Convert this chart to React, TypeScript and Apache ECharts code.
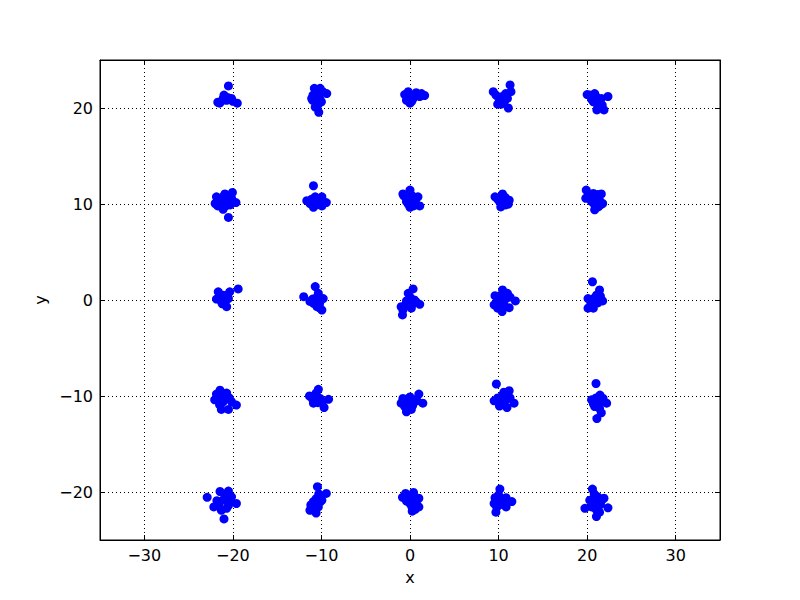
import React, { useEffect, useRef } from "react";
import * as echarts from "echarts";

// Data: [x, y] for each point, grouped by row of clusters
const clusterTop: number[][] = [
  [-20.5, 22.3], [-21.5, 20.5], [-21.0, 21.35], [-20.15, 21.0], [-19.5, 20.5], [-20.7, 20.8], [-21.3, 20.7], [-20.0, 20.7], [-21.1, 21.0], [-20.6, 21.1], [-21.7, 20.6],
  [-10.3, 19.55], [-10.8, 22.05], [-10.15, 22.05], [-9.4, 21.5], [-11.1, 21.0], [-10.5, 20.65], [-10.0, 20.65], [-10.7, 20.1], [-10.95, 21.35], [-10.3, 21.35], [-9.85, 21.7], [-10.6, 21.7], [-10.4, 20.3], [-11.0, 20.8], [-10.2, 21.0],
  [-0.2, 21.7], [-0.6, 21.4], [0.7, 21.6], [1.65, 21.3], [0.0, 20.5], [0.35, 21.0], [1.1, 21.2], [-0.4, 20.8], [0.15, 21.35], [1.3, 21.5], [0.5, 21.3], [-0.1, 21.0], [0.9, 21.4], [0.2, 20.7],
  [11.3, 22.4], [9.4, 21.7], [11.4, 21.7], [10.45, 21.2], [9.9, 20.4], [11.1, 20.0], [10.6, 20.5], [10.1, 20.8], [11.0, 21.0], [9.7, 21.35], [10.8, 21.5], [10.3, 20.4], [10.7, 20.8], [10.0, 21.1],
  [20.3, 21.35], [20.0, 21.4], [20.85, 21.5], [22.35, 21.2], [21.1, 19.8], [21.9, 19.8], [21.4, 20.5], [20.7, 20.65], [21.6, 21.0], [20.5, 20.9], [21.0, 21.2], [21.2, 20.2], [20.9, 20.8], [21.7, 20.3],
];
const clusterUpper: number[][] = [
  [-20.5, 8.6], [-21.85, 10.75], [-20.9, 11.05], [-20.05, 11.2], [-19.65, 10.15], [-22.0, 10.05], [-21.1, 9.45], [-21.45, 10.25], [-20.5, 10.25], [-20.15, 10.6], [-21.2, 10.7], [-20.8, 9.8], [-21.7, 9.8], [-20.3, 9.9],
  [-10.9, 11.9], [-11.65, 10.35], [-10.7, 10.75], [-9.95, 10.75], [-9.45, 10.15], [-10.9, 9.65], [-9.95, 9.8], [-10.35, 10.25], [-11.3, 10.05], [-10.5, 10.5], [-10.6, 9.9], [-11.1, 10.5], [-10.1, 10.4],
  [0.0, 11.45], [-0.8, 11.05], [-0.7, 10.85], [0.9, 10.75], [1.1, 9.8], [0.0, 9.65], [0.35, 10.4], [-0.4, 10.25], [0.2, 10.9], [0.6, 10.2], [-0.2, 10.0], [0.4, 9.8],
  [9.6, 10.75], [10.45, 11.05], [11.2, 10.4], [11.1, 10.0], [10.25, 9.7], [10.1, 10.25], [10.75, 10.7], [10.6, 10.2], [10.3, 10.8], [10.8, 9.9], [9.9, 10.5],
  [19.9, 11.45], [19.85, 10.6], [20.7, 11.1], [21.6, 11.05], [21.75, 10.05], [20.85, 9.4], [21.25, 9.7], [20.5, 10.25], [21.05, 10.6], [21.4, 10.4], [20.8, 10.0], [21.2, 11.0], [20.4, 10.8], [21.5, 9.9],
];
const clusterMiddle: number[][] = [
  [-19.4, 1.15], [-21.65, 0.85], [-21.85, 0.1], [-21.3, -0.15], [-20.7, -0.7], [-20.35, 0.85], [-20.5, 0.15], [-21.1, 0.5], [-20.9, 0.0], [-21.5, 0.4], [-20.6, 0.5], [-21.2, -0.4],
  [-10.7, 1.4], [-12.0, 0.35], [-10.15, -0.85], [-9.95, -1.05], [-9.8, 0.15], [-10.9, -0.35], [-11.3, -0.15], [-10.5, -0.7], [-10.35, 0.7], [-10.6, 0.2], [-10.2, -0.3], [-11.0, 0.1], [-10.4, 0.4],
  [0.35, 1.15], [-0.2, 0.7], [-0.85, -1.55], [-1.0, -0.7], [1.1, -0.45], [0.15, -0.85], [-0.4, -0.1], [0.5, 0.0], [-0.8, -1.05], [0.0, 0.3], [-0.5, -0.5], [0.3, -0.4], [0.7, -0.2], [-0.2, -0.3],
  [10.45, 1.05], [11.0, 0.7], [9.6, 0.45], [9.5, -0.5], [10.4, -1.2], [11.9, -0.1], [11.2, -0.8], [10.25, 0.0], [10.85, 0.15], [9.9, -0.85], [10.5, 0.5], [10.0, 0.2], [10.6, -0.5], [11.3, 0.3], [9.8, -0.2],
  [20.6, 1.9], [21.4, 1.05], [21.75, -0.1], [20.1, 0.15], [20.1, -0.85], [20.7, -0.85], [21.05, 0.5], [20.5, -0.15], [21.2, -0.3], [20.8, 0.2], [21.5, 0.4], [20.4, -0.5],
];
const clusterLower: number[][] = [
  [-21.45, -9.4], [-22.05, -10.4], [-21.3, -11.4], [-20.5, -11.4], [-19.6, -10.95], [-20.7, -9.7], [-21.1, -10.6], [-20.15, -10.6], [-21.85, -9.8], [-21.5, -10.9], [-20.9, -10.1], [-20.4, -10.2], [-21.2, -9.7], [-21.7, -10.4],
  [-10.35, -9.3], [-11.35, -10.0], [-10.9, -10.75], [-9.7, -11.2], [-9.2, -10.35], [-10.15, -10.25], [-10.5, -10.05], [-10.6, -9.7], [-10.4, -10.7], [-9.9, -10.6], [-11.0, -10.3],
  [1.0, -9.8], [1.45, -10.75], [-0.8, -10.25], [-1.0, -10.75], [-0.4, -11.65], [0.15, -11.4], [0.0, -10.6], [0.55, -10.4], [-0.6, -11.1], [-0.3, -10.3], [0.3, -11.0], [-0.7, -10.6], [0.8, -10.5], [0.0, -10.1],
  [9.75, -8.75], [9.5, -10.5], [11.2, -9.45], [11.75, -10.75], [10.95, -11.2], [10.1, -11.05], [10.45, -9.9], [10.85, -10.4], [10.25, -10.5], [10.6, -9.6], [11.3, -10.2], [10.5, -10.9], [9.9, -10.2], [11.0, -9.9],
  [21.0, -8.7], [21.45, -9.9], [20.5, -10.4], [22.2, -10.75], [21.6, -11.75], [21.1, -12.35], [20.85, -11.1], [21.8, -10.25], [21.25, -10.75], [21.0, -10.2], [21.4, -11.3], [20.7, -10.8], [21.6, -10.6],
];
const clusterBottom: number[][] = [
  [-22.9, -20.55], [-21.45, -19.95], [-20.5, -19.9], [-21.0, -22.8], [-22.15, -21.55], [-19.6, -21.2], [-20.15, -20.5], [-21.1, -20.85], [-20.7, -21.7], [-21.6, -21.4], [-20.35, -21.0], [-20.9, -20.4], [-21.3, -21.9], [-20.5, -21.4], [-21.8, -20.9],
  [-10.45, -19.45], [-9.45, -20.15], [-9.95, -20.85], [-11.2, -21.35], [-11.3, -21.9], [-10.6, -22.2], [-10.35, -21.55], [-10.9, -21.0], [-10.3, -20.2], [-10.6, -20.7], [-11.0, -21.7], [-10.7, -21.4], [-10.1, -21.0],
  [-0.85, -20.55], [0.4, -20.05], [-0.5, -20.15], [1.0, -20.65], [1.0, -21.55], [0.25, -22.0], [0.0, -21.2], [-0.4, -20.95], [0.5, -20.7], [0.2, -21.5], [0.7, -21.1], [-0.1, -20.5], [0.6, -21.8],
  [10.15, -19.7], [9.6, -20.6], [10.85, -20.6], [11.5, -21.0], [10.85, -21.55], [9.7, -22.1], [9.5, -21.2], [10.25, -21.0], [10.0, -20.3], [10.5, -21.3], [9.8, -21.6], [10.6, -20.9], [10.1, -20.7],
  [20.6, -19.7], [19.75, -21.7], [21.9, -20.65], [22.35, -21.65], [21.05, -22.55], [21.4, -22.1], [20.3, -20.85], [20.85, -21.2], [20.5, -21.55], [21.2, -20.5], [20.8, -20.2], [21.5, -21.3], [21.0, -21.8], [21.6, -20.9],
];

const xRange = [-35, 35];
const yRange = [-25, 25];

const fmt = (v: number) => (v < 0 ? "\u2212" + Math.abs(v) : String(v));

export default function App() {
  const ref = useRef<HTMLDivElement>(null);
  useEffect(() => {
    if (!ref.current) return;
    const chart = echarts.init(ref.current, undefined, { renderer: "svg" });
    const font = "DejaVu Sans";
    const tick = { show: true, inside: true, length: 5, lineStyle: { color: "#000", width: 1 } };
    const line = { show: true, onZero: false, lineStyle: { color: "#000", width: 1 } };
    const allPoints = [...clusterTop, ...clusterUpper, ...clusterMiddle, ...clusterLower, ...clusterBottom];
    chart.setOption({
      animation: false,
      backgroundColor: "#fff",
      grid: { left: 100, right: 80, top: 60, bottom: 60, show: true, borderColor: "#000", borderWidth: 1, backgroundColor: "transparent" },
      xAxis: [
        {
          type: "value", min: xRange[0], max: xRange[1], splitNumber: 7,
          name: "x", nameLocation: "middle", nameGap: 29,
          nameTextStyle: { color: "#000", fontFamily: font, fontSize: 16 },
          axisLine: line,
          axisTick: tick,
          axisLabel: { color: "#000", fontFamily: font, fontSize: 16, margin: 7, showMinLabel: false, showMaxLabel: false, formatter: fmt },
          splitLine: { show: true, lineStyle: { color: "#000", type: [1, 3], width: 1 } },
        },
        {
          type: "value", min: xRange[0], max: xRange[1], splitNumber: 7, position: "top",
          axisLine: line,
          axisTick: tick, axisLabel: { show: false }, splitLine: { show: false },
        },
      ],
      yAxis: [
        {
          type: "value", min: yRange[0], max: yRange[1], splitNumber: 5,
          name: "y", nameLocation: "middle", nameGap: 43, nameRotate: 90,
          nameTextStyle: { color: "#000", fontFamily: font, fontSize: 16 },
          axisLine: line,
          axisTick: tick,
          axisLabel: { color: "#000", fontFamily: font, fontSize: 16, margin: 7, showMinLabel: false, showMaxLabel: false, formatter: fmt },
          splitLine: { show: true, lineStyle: { color: "#000", type: [1, 3], width: 1 } },
        },
        {
          type: "value", min: yRange[0], max: yRange[1], splitNumber: 5, position: "right",
          axisLine: line,
          axisTick: tick, axisLabel: { show: false }, splitLine: { show: false },
        },
      ],
      series: [
        {
          type: "scatter", xAxisIndex: 0, yAxisIndex: 0,
          data: allPoints, symbol: "circle", symbolSize: 9,
          itemStyle: { color: "#0000ff", opacity: 1 },
        },
      ],
    });
    return () => chart.dispose();
  }, []);
  return <div ref={ref} style={{ position: "fixed", left: 0, top: 0, width: 800, height: 600 }} />;
}
